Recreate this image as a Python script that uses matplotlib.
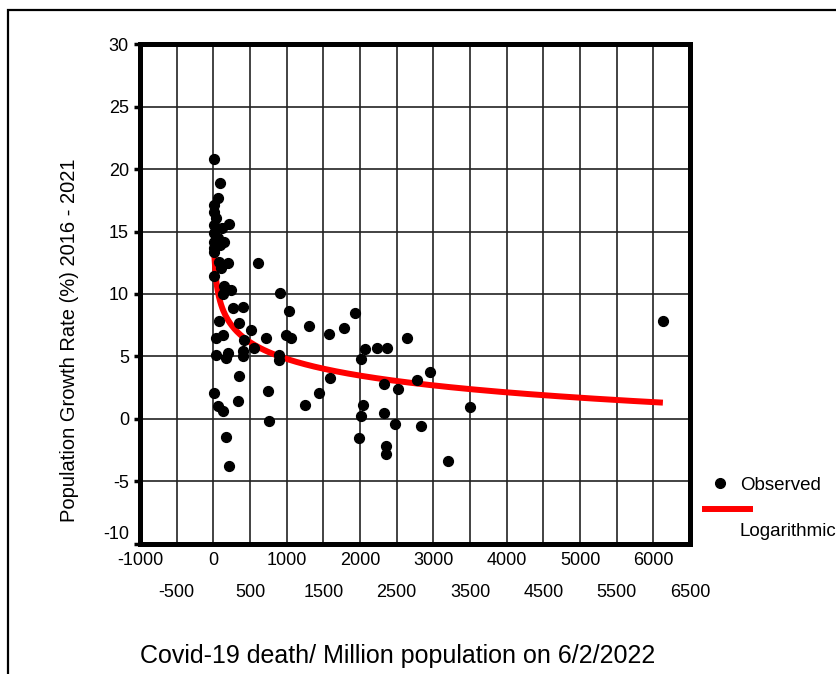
import numpy as np
import matplotlib
matplotlib.use("Agg")
import matplotlib.pyplot as plt
from matplotlib.lines import Line2D
from matplotlib.patches import Rectangle
from matplotlib.transforms import ScaledTranslation

plt.rcParams['font.family'] = ['Liberation Sans', 'DejaVu Sans']

# Covid-19 deaths per million (6/2/2022) vs population growth 2016-2021 (%)
deaths = [14, 91, 59, 14, 14, 37, 209, 14, 123, 14, 150, 14, 60, 14, 90, 14,
          82, 195, 605, 105, 14, 150, 242, 915, 127, 264, 400, 1038, 82, 355,
          515, 127, 720, 984, 1061, 40, 423, 37, 195, 400, 560, 900, 173, 400,
          900, 355, 742, 14, 332, 59, 137, 765, 173, 218, 1243, 1298, 1575,
          1926, 1776, 2072, 2018, 2231, 2368, 2641, 1585, 1439, 2327, 2518,
          2783, 2951, 2040, 2008, 2327, 2473, 2837, 1985, 2350, 2350, 3193,
          3497, 6130]
growth = [20.8, 18.9, 17.7, 17.1, 16.6, 16.1, 15.6, 15.5, 15.3, 14.9, 14.2,
          14.2, 14.5, 13.7, 13.9, 13.4, 12.6, 12.5, 12.5, 12.05, 11.4, 10.6,
          10.3, 10.05, 10.0, 8.85, 8.98, 8.6, 7.8, 7.65, 7.1, 6.7, 6.45, 6.7,
          6.45, 6.5, 6.3, 5.1, 5.25, 5.4, 5.65, 5.1, 4.85, 5.0, 4.75, 3.4,
          2.25, 2.1, 1.4, 1.05, 0.6, -0.13, -1.45, -3.8, 1.1, 7.45, 6.8, 8.45,
          7.3, 5.57, 4.78, 5.65, 5.65, 6.45, 3.25, 2.1, 2.8, 2.37, 3.12, 3.73,
          1.12, 0.27, 0.45, -0.4, -0.56, -1.55, -2.2, -2.8, -3.36, 0.98, 7.84]

# logarithmic trend y = fit_a + fit_b * ln(x), coefficients
fit_a = 18.14
fit_b = -1.93

x_ticks = list(range(-1000, 7000, 500))
y_ticks = list(range(-10, 35, 5))

x = np.array(deaths, dtype=float)
y = np.array(growth)
xf = np.linspace(x.min(), x.max(), 400)
yf = fit_a + fit_b * np.log(xf)

fig = plt.figure(figsize=(8.37, 6.74), dpi=100)
ax = fig.add_axes([0.1673, 0.1929, 0.6571, 0.7418])

ax.plot(xf, yf, color='#ff0000', lw=4.3, zorder=2, solid_capstyle='butt')
ax.scatter(x, y, s=50, color='black', zorder=3)

ax.set_xlim(-1000, 6500)
ax.set_ylim(-10, 30)
ax.set_xticks(x_ticks)
ax.set_yticks(y_ticks)
labels = []
for t in x_ticks:
    labels.append(str(t) if t % 1000 == 0 else "\n" + str(t))
ax.set_xticklabels(labels, fontsize=13, linespacing=2.1)
ax.set_yticklabels([str(t) for t in y_ticks], fontsize=13)
ax.tick_params(axis='x', length=0, pad=6)
ax.tick_params(axis='y', length=4, width=2.5, pad=4)
ax.grid(True, color='#222222', lw=1.2)
ax.set_axisbelow(True)
for s in ax.spines.values():
    s.set_linewidth(3.6)

# the -10 label sits a bit above its gridline in the original
lbl = ax.get_yticklabels()[0]
lbl.set_transform(lbl.get_transform() + ScaledTranslation(0, 0.11, fig.dpi_scale_trans))

fig.text(70 / 837, 1 - 340 / 674, "Population Growth Rate (%) 2016 - 2021",
         fontsize=14.5, rotation=90, ha='center', va='center')
fig.text(398 / 837, 1 - 656 / 674, "Covid-19 death/ Million population on 6/2/2022",
         fontsize=18, ha='center', va='center')

# legend drawn by hand to the right of the plot
fig.add_artist(Line2D([720 / 837], [1 - 483 / 674], marker='o', ms=7,
                      color='black', lw=0))
fig.text(740 / 837, 1 - 485 / 674, "Observed", fontsize=13.5, va='center')
fig.add_artist(Line2D([705 / 837, 750 / 837], [1 - 509 / 674] * 2,
                      color='#ff0000', lw=4.3))
fig.text(740 / 837, 1 - 532 / 674, "Logarithmic", fontsize=13.5, va='center')

# outer frame
fig.add_artist(Rectangle((8 / 837, -0.1), 1.2, 1.1 - 10 / 674,
                         transform=fig.transFigure, fill=False,
                         lw=1.6, color='black'))

fig.savefig("out.png", dpi=100)
